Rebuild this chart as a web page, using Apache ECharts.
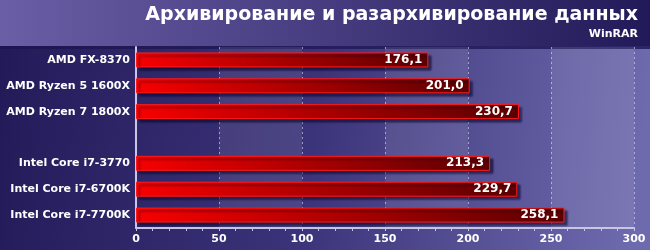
<!DOCTYPE html>
<html><head><meta charset="utf-8">
<script src="https://cdn.jsdelivr.net/npm/echarts@6/dist/echarts.min.js"></script>
<style>html,body{margin:0;padding:0;background:#2a2262}#c{width:650px;height:250px}</style>
</head><body><div id="c"></div>
<script>
const categories = ["AMD FX-8370", "AMD Ryzen 5 1600X", "AMD Ryzen 7 1800X", "", "Intel Core i7-3770", "Intel Core i7-6700K", "Intel Core i7-7700K"];
const values = [176.1, 201.0, 230.7, null, 213.3, 229.7, 258.1];
const xTicks = [0, 50, 100, 150, 200, 250, 300];
const titleText = "Архивирование и разархивирование данных";
const subtitleText = "WinRAR";

const chart = echarts.init(document.getElementById('c'), null, {renderer: 'canvas'});
const fmt = v => v.toFixed(1).replace('.', ',');
chart.setOption({
  animation: false,
  backgroundColor: new echarts.graphic.LinearGradient(0, 0, 1, 0.3, [
    {offset: 0, color: '#221a58'}, {offset: 0.5, color: '#3c347a'}, {offset: 1, color: '#6e6aae'}
  ]),
  graphic: [
    {type: 'rect', shape: {x: 0, y: 0, width: 650, height: 47}, z: -1, silent: true,
     style: {fill: new echarts.graphic.LinearGradient(0, 0, 1, 0, [
       {offset: 0, color: '#6a5ea6'}, {offset: 1, color: '#221a58'}])}},
    {type: 'rect', shape: {x: 0, y: 46, width: 650, height: 3}, z: -1, silent: true,
     style: {fill: new echarts.graphic.LinearGradient(0, 0, 1, 0, [
       {offset: 0, color: '#1c1650'}, {offset: 1, color: '#2c2668'}])}}
  ],
  title: [
    {text: titleText, right: 12, top: 6, padding: 0,
     textStyle: {color: '#ffffff', fontFamily: 'DejaVu Sans', fontWeight: 'bold', fontSize: 19}},
    {text: subtitleText, right: 12, top: 29, padding: 0,
     textStyle: {color: '#ffffff', fontFamily: 'DejaVu Sans', fontWeight: 'bold', fontSize: 11}}
  ],
  grid: {left: 136, right: 16, top: 47, bottom: 22, containLabel: false},
  xAxis: {
    type: 'value', min: 0, max: 300, interval: 50,
    axisLine: {show: true, lineStyle: {color: '#c8c6e6', width: 2}},
    axisTick: {show: true, length: 3, lineStyle: {color: '#c8c6e6'}},
    minorTick: {show: true, splitNumber: 5, length: 3, lineStyle: {color: '#c8c6e6'}},
    axisLabel: {color: '#ffffff', fontFamily: 'DejaVu Sans', fontWeight: 'bold', fontSize: 11, margin: 6,
      formatter: v => xTicks.includes(v) ? String(v) : ''},
    splitLine: {show: true, lineStyle: {color: 'rgba(220,220,245,0.6)', type: [2, 3], width: 1}},
    splitArea: {show: true, areaStyle: {color: ['rgba(255,255,255,0)', 'rgba(255,255,255,0.09)']}}
  },
  yAxis: {
    type: 'category', data: categories, inverse: true,
    axisLine: {show: true, lineStyle: {color: '#c8c6e6', width: 2}},
    axisTick: {show: false},
    axisLabel: {color: '#ffffff', fontFamily: 'DejaVu Sans', fontWeight: 'bold', fontSize: 11, margin: 6}
  },
  series: [{
    type: 'bar', data: values, barWidth: 15,
    itemStyle: {
      color: new echarts.graphic.LinearGradient(0, 0, 1, 0, [
        {offset: 0, color: '#f80000'}, {offset: 1, color: '#5a0000'}]),
      borderColor: '#ff1a1a', borderWidth: 1,
      shadowColor: 'rgba(10,5,40,0.6)', shadowOffsetX: 3, shadowOffsetY: 3, shadowBlur: 2
    },
    label: {show: true, position: 'insideRight', offset: [-1, 0], formatter: p => fmt(p.value),
      color: '#ffffff', fontFamily: 'DejaVu Sans', fontWeight: 'bold', fontSize: 12,
      textShadowColor: '#000000', textShadowBlur: 0, textShadowOffsetX: 1, textShadowOffsetY: 1}
  }]
});
</script></body></html>
